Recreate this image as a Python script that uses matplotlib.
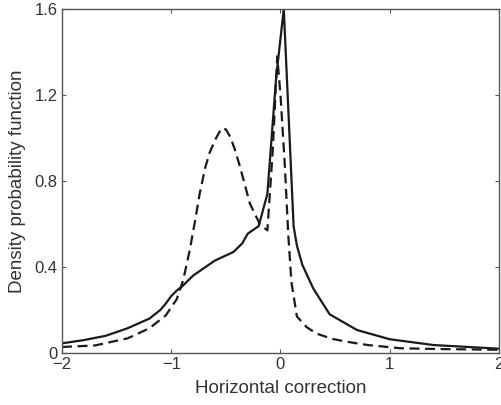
import matplotlib
matplotlib.use('Agg')
from matplotlib import pyplot as plt

# solid curve
x_solid = [-2.0, -1.8, -1.6, -1.4, -1.2, -1.1, -1.05, -1.0, -0.95, -0.9, -0.8,
           -0.6, -0.43, -0.35, -0.3, -0.2, -0.12, -0.04, 0.03, 0.12, 0.15,
           0.2, 0.3, 0.45, 0.7, 1.0, 1.4, 2.0]
y_solid = [0.045, 0.06, 0.08, 0.115, 0.16, 0.2, 0.23, 0.265, 0.29, 0.31, 0.36,
           0.43, 0.47, 0.51, 0.555, 0.59, 0.74, 1.28, 1.6, 0.59, 0.5,
           0.41, 0.3, 0.18, 0.107, 0.064, 0.037, 0.02]

# dashed curve
x_dash = [-2.0, -1.7, -1.4, -1.2, -1.05, -0.95, -0.89, -0.83, -0.78, -0.74,
          -0.69, -0.65, -0.6, -0.54, -0.5, -0.46, -0.42, -0.37, -0.28, -0.19,
          -0.12, -0.07, -0.03, 0.0, 0.04, 0.07, 0.1, 0.15, 0.24, 0.33, 0.48,
          0.6, 0.8, 1.1, 1.5, 2.0]
y_dash = [0.028, 0.035, 0.068, 0.115, 0.175, 0.25, 0.34, 0.48, 0.62, 0.74,
          0.86, 0.93, 0.99, 1.045, 1.04, 1.005, 0.95, 0.865, 0.695, 0.6,
          0.57, 0.95, 1.38, 1.2, 0.87, 0.56, 0.33, 0.17, 0.12, 0.09, 0.065,
          0.053, 0.037, 0.022, 0.018, 0.015]

x_ticks = [-2, -1, 0, 1, 2]
x_tick_labels = ['\u22122', '\u22121', '0', '1', '2']
y_ticks = [0, 0.4, 0.8, 1.2, 1.6]
y_tick_labels = ['0', '0.4', '0.8', '1.2', '1.6']

plt.rcParams['font.family'] = ['Liberation Sans', 'DejaVu Sans']

fig = plt.figure(figsize=(5.02, 4.05), dpi=100)
ax = fig.add_axes([0.1235, 0.1284, 0.8705, 0.8494])

ax.plot(x_solid, y_solid, color='#1a1a1a', lw=1.6)
ax.plot(x_dash, y_dash, color='#1a1a1a', lw=1.6, linestyle=(0, (4.5, 2.5)))

ax.set_xlim(-2, 2)
ax.set_ylim(0, 1.6)
ax.set_xticks(x_ticks)
ax.set_xticklabels(x_tick_labels)
ax.set_yticks(y_ticks)
ax.set_yticklabels(y_tick_labels)

for s in ax.spines.values():
    s.set_color('#555555')
    s.set_linewidth(1.0)
ax.tick_params(direction='in', top=True, right=True, length=3, width=0.8,
               color='#555555', labelsize=12, labelcolor='#333333', pad=3)

ax.set_xlabel('Horizontal correction', fontsize=13.5, color='#333333', labelpad=6)
ax.set_ylabel('Density probability function', fontsize=13.5, color='#333333', labelpad=6)

fig.savefig('out.png', dpi=100)
